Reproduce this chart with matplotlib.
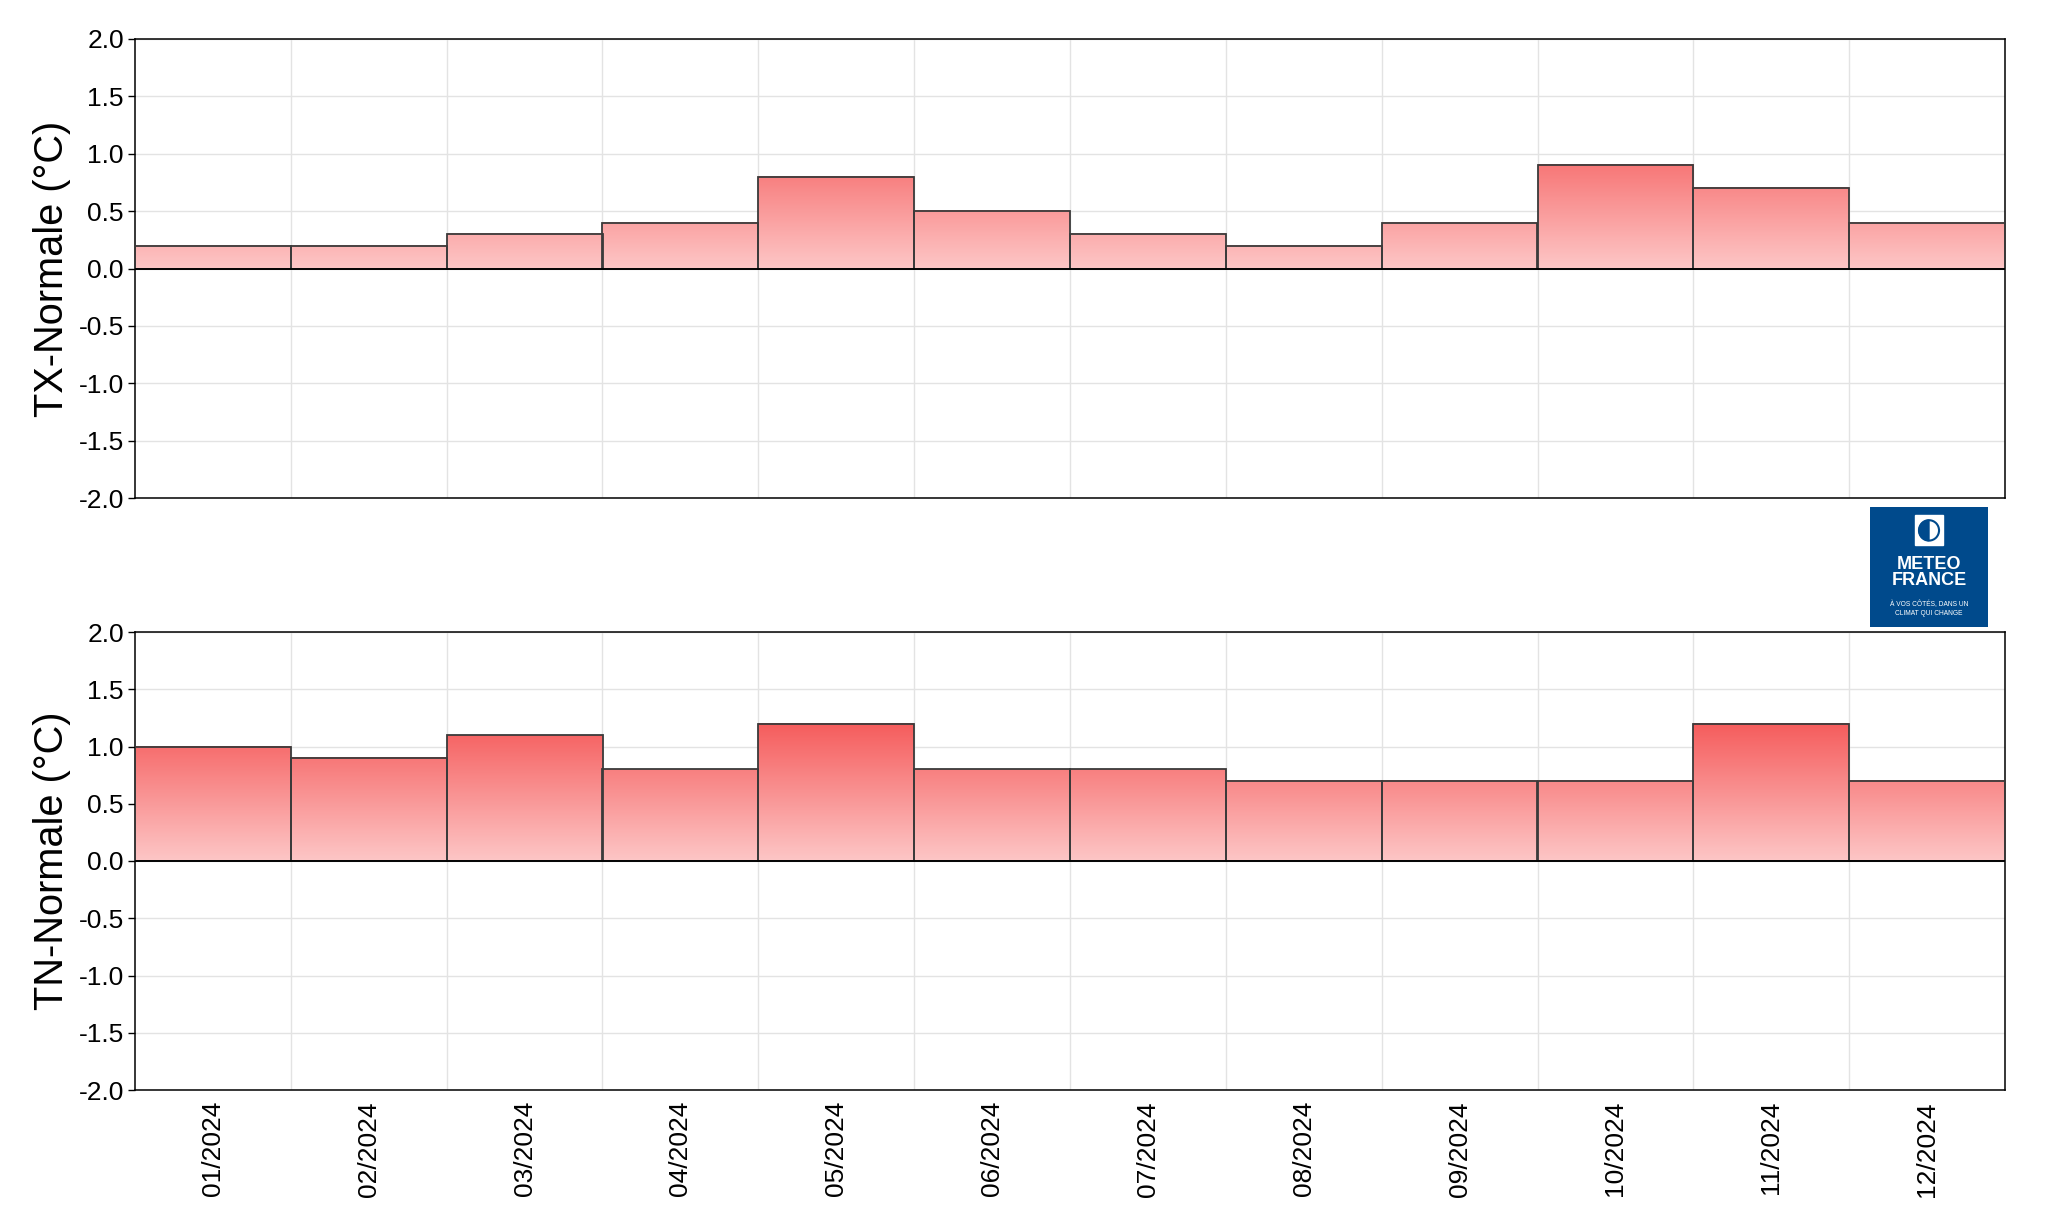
import numpy as np
import matplotlib
matplotlib.use("Agg")
import matplotlib.pyplot as plt
from matplotlib.colors import LinearSegmentedColormap
from matplotlib.patches import Rectangle, Circle, Wedge

plt.rcParams['font.family'] = ['Liberation Sans', 'DejaVu Sans']
plt.rcParams['axes.unicode_minus'] = False

months = ['01/2024', '02/2024', '03/2024', '04/2024', '05/2024', '06/2024',
          '07/2024', '08/2024', '09/2024', '10/2024', '11/2024', '12/2024']
tx_anom = [0.2, 0.2, 0.3, 0.4, 0.8, 0.5, 0.3, 0.2, 0.4, 0.9, 0.7, 0.4]
tn_anom = [1.0, 0.9, 1.1, 0.8, 1.2, 0.8, 0.8, 0.7, 0.7, 0.7, 1.2, 0.7]
yticks = [-2.0, -1.5, -1.0, -0.5, 0.0, 0.5, 1.0, 1.5, 2.0]

W, H = 2057, 1230
cmap = LinearSegmentedColormap.from_list('warm', [(253/255, 198/255, 198/255),
                                                   (240/255, 22/255, 22/255)])


def draw_panel(ax, values, ylabel, show_xlabels):
    x = np.arange(len(values))
    for xi, v in zip(x, values):
        grad = np.linspace(0, v, 200).reshape(-1, 1)
        ax.imshow(grad, extent=[xi - 0.5, xi + 0.5, 0, v], origin='lower',
                  cmap=cmap, vmin=0, vmax=2, aspect='auto', zorder=2,
                  interpolation='bilinear')
    ax.bar(x, values, width=1.0, fill=False, edgecolor='#3a3a3a',
           linewidth=1.3, zorder=3)
    ax.axhline(0, color='black', linewidth=1.3, zorder=4)

    ax.set_xlim(-0.5, len(values) - 0.5)
    ax.set_ylim(-2, 2)
    ax.set_yticks(yticks)
    ax.set_yticklabels([f'{t:.1f}' for t in yticks], fontsize=19)
    ax.set_xticks(x)
    ax.set_xticks(x[:-1] + 0.5, minor=True)
    if show_xlabels:
        ax.set_xticklabels(months, rotation=90, fontsize=19)
    else:
        ax.set_xticklabels([])
    ax.tick_params(axis='x', which='both', length=0, pad=8)
    ax.tick_params(axis='y', length=5, width=1, pad=3)

    ax.grid(axis='y', which='major', color='#e3e3e3', linewidth=1, zorder=0)
    ax.grid(axis='x', which='minor', color='#e3e3e3', linewidth=1, zorder=0)
    ax.set_axisbelow(True)
    for s in ax.spines.values():
        s.set_color('black')
        s.set_linewidth(1.1)

    ax.set_ylabel(ylabel, fontsize=28.6)
    ax.yaxis.set_label_coords(-0.034, 0.5)


fig = plt.figure(figsize=(W / 100, H / 100), dpi=100)

left, right = 135, 2005
ax1 = fig.add_axes([left / W, 1 - 498 / H, (right - left) / W, (498 - 39) / H])
ax2 = fig.add_axes([left / W, 1 - 1090 / H, (right - left) / W, (1090 - 632) / H])

draw_panel(ax1, tx_anom, 'TX-Normale (°C)', False)
draw_panel(ax2, tn_anom, 'TN-Normale (°C)', True)

# Meteo-France logo block
lx, ly, lw, lh = 1870, 507, 118, 120
logo = fig.add_axes([lx / W, 1 - (ly + lh) / H, lw / W, lh / H])
logo.set_xlim(0, 1)
logo.set_ylim(0, 1)
logo.axis('off')
logo.add_patch(Rectangle((0, 0), 1, 1, color='#004a8c'))
logo.add_patch(Rectangle((0.38, 0.68), 0.24, 0.25, color='white'))
logo.add_patch(Wedge((0.5, 0.805), 0.085, 90, 270, color='#004a8c'))
logo.add_patch(Circle((0.5, 0.805), 0.085, fill=False, edgecolor='#004a8c', linewidth=1.5))
logo.text(0.5, 0.455, 'METEO\nFRANCE', color='white', fontsize=13, fontweight='bold',
          ha='center', va='center', linespacing=0.95)
logo.text(0.5, 0.15, 'À VOS CÔTÉS, DANS UN\nCLIMAT QUI CHANGE', color='white',
          fontsize=4.8, ha='center', va='center', linespacing=1.3)

fig.savefig('out.png', dpi=100)
